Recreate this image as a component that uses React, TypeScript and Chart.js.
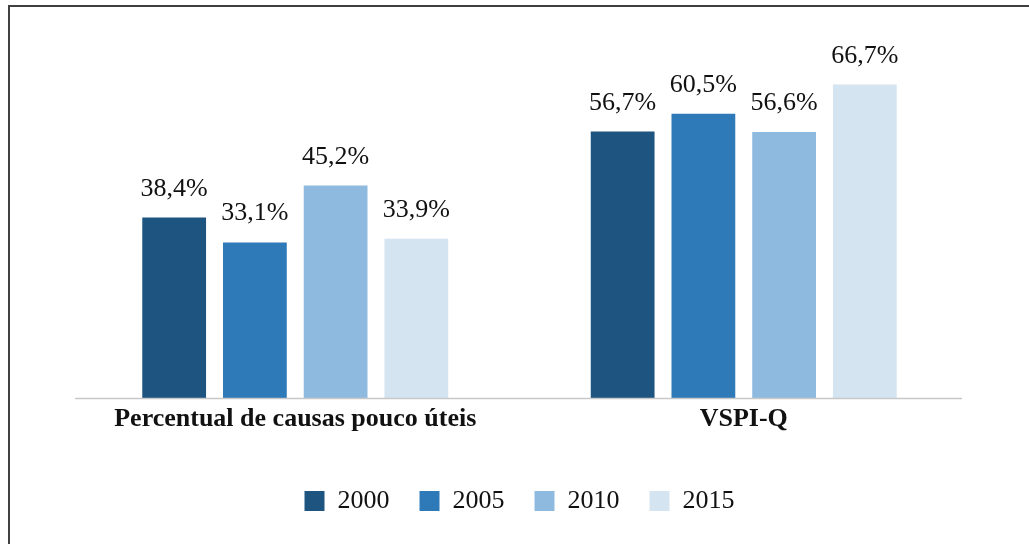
import React, { useEffect, useRef } from "react";
import { Chart, registerables } from "chart.js";

Chart.register(...registerables);

const categories = ["Percentual de causas pouco úteis", "VSPI-Q"];
const seriesNames = ["2000", "2005", "2010", "2015"];
const values2000 = [38.4, 56.7];
const values2005 = [33.1, 60.5];
const values2010 = [45.2, 56.6];
const values2015 = [33.9, 66.7];
const seriesColors = ["#1d5480", "#2e79b8", "#8fbae0", "#d4e4f1"];

const FONT = "'Liberation Serif', 'Times New Roman', serif";

const fmt = (v: number) => v.toFixed(1).replace(".", ",") + "%";

const framePlugin = {
  id: "frame",
  beforeDraw(chart: any) {
    const { ctx, width, height } = chart;
    ctx.save();
    ctx.fillStyle = "#ffffff";
    ctx.fillRect(0, 0, width, height);
    ctx.fillStyle = "#404040";
    ctx.fillRect(8, 5, 2, height - 5);
    ctx.fillRect(8, 5, width - 8, 2);
    ctx.restore();
  },
};

const baselinePlugin = {
  id: "baseline",
  afterDatasetsDraw(chart: any) {
    const { ctx, chartArea } = chart;
    const y = Math.round(chart.scales.y.getPixelForValue(0)) + 0.5;
    ctx.save();
    ctx.strokeStyle = "#c8c8c8";
    ctx.lineWidth = 1.5;
    ctx.beginPath();
    ctx.moveTo(chartArea.left + 4, y);
    ctx.lineTo(chartArea.right - 6, y);
    ctx.stroke();
    ctx.restore();
  },
};

const labelPlugin = {
  id: "barLabels",
  afterDatasetsDraw(chart: any) {
    const { ctx } = chart;
    ctx.save();
    ctx.font = `26px ${FONT}`;
    ctx.fillStyle = "#111111";
    ctx.textAlign = "center";
    ctx.textBaseline = "alphabetic";
    chart.data.datasets.forEach((ds: any, i: number) => {
      const meta = chart.getDatasetMeta(i);
      meta.data.forEach((bar: any, j: number) => {
        ctx.fillText(fmt(ds.data[j]), bar.x, bar.y - 22);
      });
    });
    ctx.restore();
  },
};

export default function App() {
  const ref = useRef<HTMLCanvasElement>(null);
  useEffect(() => {
    if (!ref.current) return;
    const data = [values2000, values2005, values2010, values2015];
    const chart = new Chart(ref.current, {
      type: "bar",
      data: {
        labels: categories,
        datasets: seriesNames.map((name, i) => ({
          label: name,
          data: data[i],
          backgroundColor: seriesColors[i],
          borderWidth: 0,
          categoryPercentage: 0.72,
          barPercentage: 0.79,
        })),
      },
      options: {
        responsive: false,
        animation: false,
        layout: { padding: { left: 71, right: 61, top: 22, bottom: 20 } },
        plugins: {
          legend: {
            position: "bottom",
            labels: {
              boxWidth: 20,
              boxHeight: 20,
              padding: 30,
              color: "#111111",
              font: { family: FONT, size: 26 },
            },
          },
          tooltip: { enabled: false },
        },
        scales: {
          x: {
            grid: { display: false, drawTicks: false },
            border: { display: false },
            ticks: {
              color: "#111111",
              padding: 6,
              font: { family: FONT, size: 26, weight: "bold" },
            },
            afterFit: (scale: any) => {
              scale.height = 60;
            },
          },
          y: {
            display: false,
            min: 0,
            max: 80,
          },
        },
      },
      plugins: [framePlugin, baselinePlugin, labelPlugin],
    });
    return () => chart.destroy();
  }, []);
  return (
    <canvas
      ref={ref}
      width={1029}
      height={544}
      style={{ position: "fixed", left: 0, top: 0, display: "block" }}
    />
  );
}
